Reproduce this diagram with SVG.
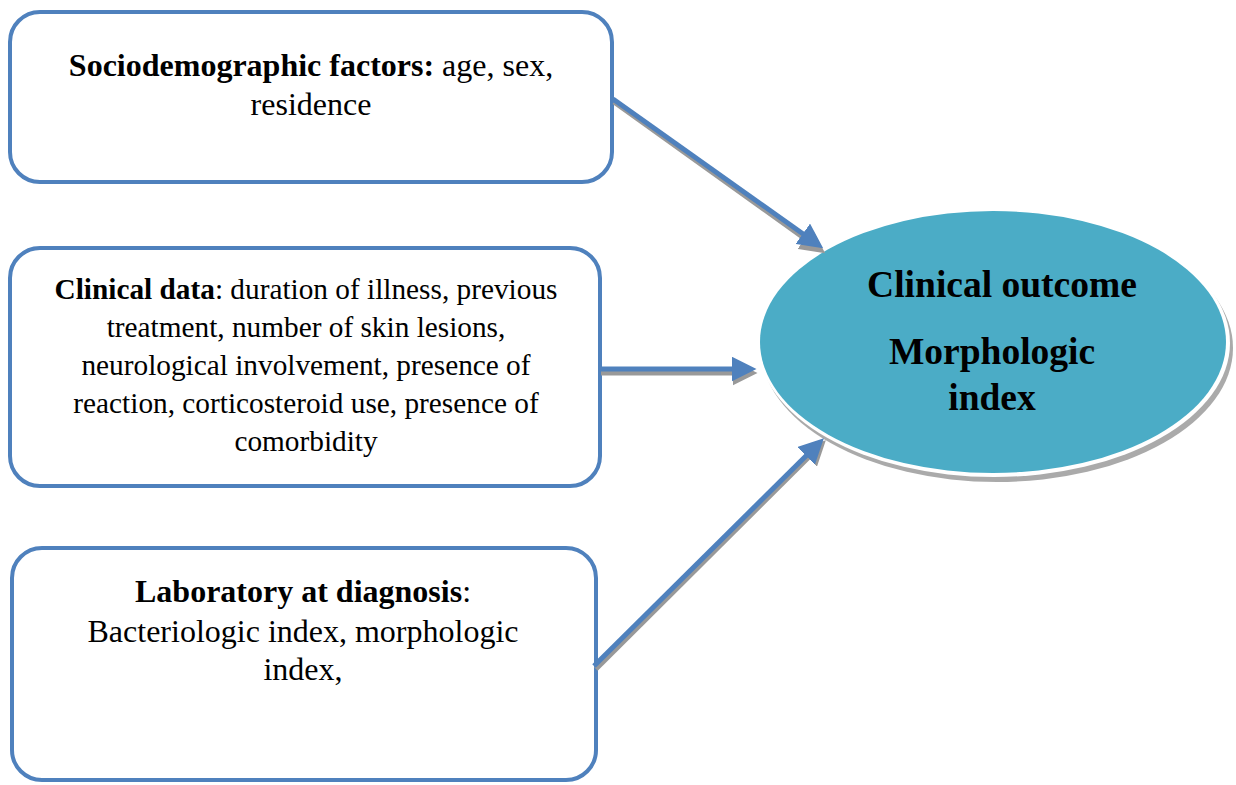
<svg xmlns="http://www.w3.org/2000/svg" width="1236" height="785" viewBox="0 0 1236 785">
<style>
.box{fill:#fff;stroke:#4F81BD;stroke-width:4}
.t{font-size:32px;fill:#000;text-anchor:middle}
.t2{font-size:29.3px;fill:#000;text-anchor:middle}
.b{font-weight:bold}
.et{font-size:37.5px;font-weight:bold;fill:#000;text-anchor:middle}
.conn{stroke:#4F81BD;stroke-width:5;fill:none}
.sh{stroke:#999;stroke-width:5;fill:none}
</style>
<defs>
<marker id="ah" markerWidth="5" markerHeight="5" refX="2.5" refY="2.5" orient="auto" markerUnits="strokeWidth">
<path d="M0,0 L5,2.5 L0,5 z" fill="#4F81BD"/>
</marker>
<marker id="ahs" markerWidth="5" markerHeight="5" refX="2.5" refY="2.5" orient="auto" markerUnits="strokeWidth">
<path d="M0,0 L5,2.5 L0,5 z" fill="#999"/>
</marker>
</defs>
<rect width="1236" height="785" fill="#fff"/>
<g id="node-socio" font-family="Liberation Serif, Times New Roman, serif">
<rect class="box" x="10" y="12" width="602" height="170" rx="30"/>
<text class="t" x="311" y="76"><tspan class="b">Sociodemographic factors:</tspan> age, sex,</text>
<text class="t" x="311" y="115">residence</text>
</g>
<g id="node-clinical" font-family="Liberation Serif, Times New Roman, serif">
<rect class="box" x="10" y="248" width="590" height="238" rx="30"/>
<text class="t2" x="306" y="299"><tspan class="b">Clinical data</tspan>: duration of illness, previous</text>
<text class="t2" x="306" y="337">treatment, number of skin lesions,</text>
<text class="t2" x="306" y="375">neurological involvement, presence of</text>
<text class="t2" x="306" y="413">reaction, corticosteroid use, presence of</text>
<text class="t2" x="306" y="451">comorbidity</text>
</g>
<g id="node-lab" font-family="Liberation Serif, Times New Roman, serif">
<rect class="box" x="12" y="548" width="584" height="232" rx="30"/>
<text class="t" x="303" y="602"><tspan class="b">Laboratory at diagnosis</tspan>:</text>
<text class="t" x="303" y="642">Bacteriologic index, morphologic</text>
<text class="t" x="303" y="680">index,</text>
</g>
<g id="node-outcome" font-family="Liberation Serif, Times New Roman, serif">
<ellipse cx="997" cy="348" rx="236" ry="134" fill="#aaa"/>
<ellipse cx="994" cy="343" rx="236" ry="134" fill="#fff"/>
<ellipse cx="993" cy="342" rx="233" ry="131" fill="#4BACC6"/>
<text class="et" x="1002" y="297">Clinical outcome</text>
<text class="et" x="992" y="364">Morphologic</text>
<text class="et" x="992" y="410">index</text>
</g>
<g id="connectors">
<line class="sh" x1="614" y1="102" x2="815" y2="246" marker-end="url(#ahs)"/>
<line class="sh" x1="601" y1="373" x2="745" y2="373" marker-end="url(#ahs)"/>
<line class="sh" x1="596" y1="669" x2="817" y2="449" marker-end="url(#ahs)"/>
<line class="conn" x1="613" y1="99" x2="813" y2="241" marker-end="url(#ah)"/>
<line class="conn" x1="601" y1="369" x2="744" y2="369" marker-end="url(#ah)"/>
<line class="conn" x1="594" y1="666" x2="815" y2="447" marker-end="url(#ah)"/>
</g>
</svg>
